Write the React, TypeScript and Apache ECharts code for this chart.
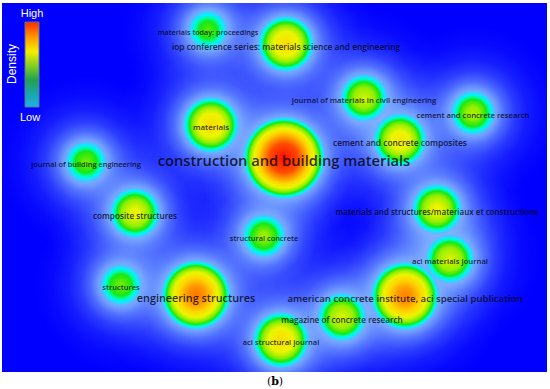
import React, { useEffect, useRef } from "react";
import * as echarts from "echarts";

// ---- data (VOSviewer density map: source journals) ----
const journals = [
  "materials today: proceedings",
  "iop conference series: materials science and engineering",
  "journal of materials in civil engineering",
  "cement and concrete research",
  "materials",
  "cement and concrete composites",
  "construction and building materials",
  "journal of building engineering",
  "composite structures",
  "structural concrete",
  "materials and structures/materiaux et constructions",
  "aci materials journal",
  "structures",
  "engineering structures",
  "american concrete institute, aci special publication",
  "magazine of concrete research",
  "aci structural journal",
];
// map coordinates of the items (same units as the picture's map area)
const nodeX = [208, 286, 364, 473, 211, 400, 284, 86, 135, 264, 437, 450, 121, 196, 405, 342, 281];
const nodeY = [30, 44, 98, 113, 125, 140, 158, 162, 213, 236, 209, 259, 285, 295, 296, 317, 340];
// relative peak density of each item (1 = highest)
const density = [0.27, 0.55, 0.4, 0.35, 0.55, 0.5, 1.0, 0.3, 0.45, 0.33, 0.45, 0.42, 0.3, 0.78, 0.76, 0.42, 0.55];
const legendTicks = ["High", "Low"];
const legendTitle = "Density";
const caption = "(b)";

// ---- styles ----
const LABEL_SIZE = [7.2, 8.4, 7.7, 7.7, 7.9, 8.4, 14.7, 7.4, 8.2, 7.4, 8.0, 7.7, 7.5, 10.8, 9.6, 8.2, 7.6];
const HAZE = 64;
const radiusOf = (w: number) => 14 + 28 * w;

// density level -> colour
const COLOR_STOPS: [number, number[]][] = [
  [0.0, [110, 170, 255, 0]],
  [0.04, [95, 185, 255, 0.55]],
  [0.08, [45, 215, 255, 0.9]],
  [0.12, [0, 242, 255, 1]],
  [0.17, [0, 252, 160, 1]],
  [0.22, [25, 232, 20, 1]],
  [0.32, [150, 238, 0, 1]],
  [0.44, [235, 245, 0, 1]],
  [0.58, [255, 212, 0, 1]],
  [0.72, [255, 150, 0, 1]],
  [0.86, [255, 75, 0, 1]],
  [1.0, [255, 10, 0, 1]],
];

const rgba = (c: number[]) =>
  `rgba(${Math.round(c[0])},${Math.round(c[1])},${Math.round(c[2])},${c[3].toFixed(3)})`;

function colorAt(d: number): number[] {
  if (d <= COLOR_STOPS[0][0]) return COLOR_STOPS[0][1];
  for (let i = 1; i < COLOR_STOPS.length; i++) {
    const [s1, c1] = COLOR_STOPS[i];
    const [s0, c0] = COLOR_STOPS[i - 1];
    if (d <= s1) {
      const t = (d - s0) / (s1 - s0);
      return c0.map((v, k) => v + (c1[k] - v) * t);
    }
  }
  return COLOR_STOPS[COLOR_STOPS.length - 1][1];
}

// kernel: d(r) = w * cos(pi/2 * r/R)
function coreGradient(w: number) {
  const stops: { offset: number; color: string }[] = [{ offset: 0, color: rgba(colorAt(w)) }];
  for (let i = COLOR_STOPS.length - 1; i >= 0; i--) {
    const [L, c] = COLOR_STOPS[i];
    if (L < w) {
      const t = (2 / Math.PI) * Math.acos(L / w);
      stops.push({ offset: Math.min(1, Math.max(0, t)), color: rgba(c) });
    }
  }
  return new echarts.graphic.RadialGradient(0.5, 0.5, 0.5, stops);
}

function hazeGradient(R: number) {
  const H = R + HAZE;
  const c = "130,180,255";
  return new echarts.graphic.RadialGradient(0.5, 0.5, 0.5, [
    { offset: 0, color: `rgba(${c},0.92)` },
    { offset: R / H, color: `rgba(${c},0.88)` },
    { offset: (R + 8) / H, color: `rgba(${c},0.58)` },
    { offset: (R + 18) / H, color: `rgba(${c},0.33)` },
    { offset: (R + 30) / H, color: `rgba(${c},0.16)` },
    { offset: (R + 46) / H, color: `rgba(${c},0.05)` },
    { offset: 1, color: `rgba(${c},0)` },
  ]);
}

export default function App() {
  const ref = useRef<HTMLDivElement>(null);
  useEffect(() => {
    document.body.style.margin = "0";
    if (!ref.current) return;
    const chart = echarts.init(ref.current, undefined, { renderer: "svg" });
    const points = journals.map((n, i) => [nodeX[i], nodeY[i], density[i]]);
    chart.setOption({
      animation: false,
      grid: {
        left: 2,
        top: 3,
        width: 545,
        height: 369,
        show: true,
        backgroundColor: "#0000ff",
        borderWidth: 0,
      },
      xAxis: { type: "value", min: 2, max: 547, show: false },
      yAxis: { type: "value", min: 3, max: 372, inverse: true, show: false },
      series: [
        {
          type: "custom",
          clip: true,
          silent: true,
          z: 1,
          data: points,
          renderItem: (params: any, api: any) => {
            const p = api.coord([api.value(0), api.value(1)]);
            const R = radiusOf(api.value(2));
            return {
              type: "circle",
              shape: { cx: p[0], cy: p[1], r: R + HAZE },
              style: { fill: hazeGradient(R) },
            };
          },
        },
        {
          type: "custom",
          clip: true,
          silent: true,
          z: 2,
          data: points,
          renderItem: (params: any, api: any) => {
            const p = api.coord([api.value(0), api.value(1)]);
            const w = api.value(2);
            return {
              type: "circle",
              shape: { cx: p[0], cy: p[1], r: radiusOf(w) },
              style: { fill: coreGradient(w) },
            };
          },
        },
        {
          type: "scatter",
          silent: true,
          z: 5,
          symbolSize: 1,
          itemStyle: { color: "rgba(0,0,0,0)" },
          data: journals.map((n, i) => ({
            name: n,
            value: [nodeX[i], nodeY[i]],
            label: { fontSize: LABEL_SIZE[i] },
          })),
          label: {
            show: true,
            position: "inside",
            offset: [0, 2],
            formatter: (p: any) => p.name,
            color: "#000000",
            fontWeight: 600,
            fontFamily: "Open Sans",
          },
        },
      ],
      graphic: [
        {
          type: "rect",
          z: 100,
          shape: { x: 25, y: 22, width: 14, height: 85 },
          style: {
            fill: new echarts.graphic.LinearGradient(0, 0, 0, 1, [
              { offset: 0, color: "#ff2a00" },
              { offset: 0.18, color: "#ff9a00" },
              { offset: 0.35, color: "#f5ee00" },
              { offset: 0.55, color: "#6cc82a" },
              { offset: 0.68, color: "#22a050" },
              { offset: 0.84, color: "#1aa6a8" },
              { offset: 1, color: "#1fb0e8" },
            ]),
            stroke: "#5d7393",
            lineWidth: 1,
          },
        },
        {
          type: "text",
          z: 100,
          x: 32,
          y: 13,
          style: {
            text: legendTicks[0],
            fill: "#ffffff",
            fontSize: 11,
            fontFamily: "Liberation Sans",
            align: "center",
            verticalAlign: "middle",
          },
        },
        {
          type: "text",
          z: 100,
          x: 30,
          y: 117,
          style: {
            text: legendTicks[1],
            fill: "#ffffff",
            fontSize: 11,
            fontFamily: "Liberation Sans",
            align: "center",
            verticalAlign: "middle",
          },
        },
        {
          type: "text",
          z: 100,
          x: 12,
          y: 64,
          rotation: Math.PI / 2,
          style: {
            text: legendTitle,
            fill: "#ffffff",
            fontSize: 12,
            fontFamily: "Liberation Sans",
            align: "center",
            verticalAlign: "middle",
          },
        },
        {
          type: "text",
          z: 100,
          x: 275,
          y: 381,
          style: {
            text: caption.replace("b", "{bold|b}"),
            fill: "#000000",
            fontSize: 11,
            fontFamily: "DejaVu Serif",
            align: "center",
            verticalAlign: "middle",
            rich: { bold: { fontWeight: "bold", fontSize: 11, fontFamily: "DejaVu Serif" } },
          },
        },
      ],
    });
    return () => chart.dispose();
  }, []);
  return <div ref={ref} style={{ width: 550, height: 389 }} />;
}
